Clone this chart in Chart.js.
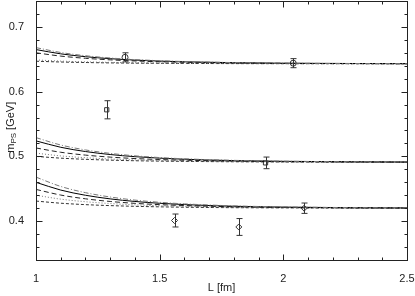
<!DOCTYPE html>
<html>
<head>
<meta charset="utf-8">
<script src="https://cdn.jsdelivr.net/npm/chart.js@4"></script>
<style>
  body { margin: 0; background: #fff; }
  #wrap { width: 415px; height: 296px; }
</style>
</head>
<body>
<div id="wrap"><canvas id="massChart" width="415" height="296"></canvas></div>
<script>
// axis ticks
var xTicks = [1, 1.5, 2, 2.5];
var yTicks = [0.4, 0.5, 0.6, 0.7];

var gridL = [1.0, 1.1, 1.2, 1.3, 1.4, 1.5, 1.6, 1.8, 2.0, 2.25, 2.5];

// top group of curves
var topA = [0.668, 0.6605, 0.6555, 0.652, 0.6495, 0.6478, 0.6465, 0.6449, 0.644, 0.6435, 0.6433];
var topB = [0.665, 0.6584, 0.654, 0.6509, 0.6487, 0.6472, 0.6461, 0.6447, 0.6439, 0.6435, 0.6432];
var topC = [0.660, 0.6549, 0.6515, 0.6491, 0.6474, 0.6462, 0.6454, 0.6443, 0.6437, 0.6434, 0.6432];
var topD = [0.649, 0.6472, 0.646, 0.6452, 0.6446, 0.6441, 0.6438, 0.6435, 0.6433, 0.6431, 0.643];
var topE = [0.647, 0.6458, 0.645, 0.6444, 0.644, 0.6438, 0.6436, 0.6433, 0.6432, 0.6431, 0.643];

// middle group
var midA = [0.529, 0.5176, 0.510, 0.5047, 0.5009, 0.4982, 0.4963, 0.4939, 0.4926, 0.4918, 0.4914];
var midB = [0.524, 0.5141, 0.5075, 0.5029, 0.4996, 0.4973, 0.4956, 0.4935, 0.4924, 0.4917, 0.4913];
var midC = [0.513, 0.5064, 0.502, 0.4989, 0.4967, 0.4952, 0.4941, 0.4927, 0.4919, 0.4915, 0.4912];
var midD = [0.505, 0.5008, 0.498, 0.496, 0.4946, 0.4937, 0.493, 0.4921, 0.4916, 0.4913, 0.4911];
var midE = [0.500, 0.4973, 0.4955, 0.4942, 0.4933, 0.4927, 0.4923, 0.4917, 0.4914, 0.4912, 0.4911];

// bottom group
var lowA = [0.468, 0.4536, 0.444, 0.4373, 0.4325, 0.4291, 0.4267, 0.4236, 0.422, 0.421, 0.4205];
var lowB = [0.460, 0.448, 0.440, 0.4344, 0.4304, 0.4276, 0.4256, 0.423, 0.4217, 0.4208, 0.4204];
var lowC = [0.449, 0.4403, 0.4345, 0.4304, 0.4275, 0.4255, 0.4241, 0.4222, 0.4212, 0.4206, 0.4203];
var lowD = [0.440, 0.434, 0.430, 0.4272, 0.4252, 0.4238, 0.4228, 0.4215, 0.4208, 0.4204, 0.4202];
var lowE = [0.431, 0.4277, 0.4255, 0.424, 0.4229, 0.4221, 0.4215, 0.4208, 0.4205, 0.4202, 0.4201];

// lattice points with errors
var circleL = [1.36, 2.04];
var circleM = [0.653, 0.644];
var circleErr = [0.007, 0.007];

var squareL = [1.286, 1.928];
var squareM = [0.572, 0.490];
var squareErr = [0.014, 0.009];

var diamondL = [1.56, 1.82, 2.084];
var diamondM = [0.401, 0.391, 0.420];
var diamondErr = [0.010, 0.013, 0.008];

function pairs(xs, ys) {
    return xs.map(function (x, i) { return { x: x, y: ys[i] }; });
}

var curveStyles = [
    { color: '#777', dash: [5, 2, 1, 2] },
    { color: '#000', dash: [] },
    { color: '#222', dash: [5, 3] },
    { color: '#777', dash: [1, 2] },
    { color: '#333', dash: [3, 2] }
];

var datasets = [];
[[topA, topB, topC, topD, topE], [midA, midB, midC, midD, midE], [lowA, lowB, lowC, lowD, lowE]].forEach(function (group) {
    group.forEach(function (vals, i) {
        datasets.push({
            type: 'line',
            data: pairs(gridL, vals),
            borderColor: curveStyles[i].color,
            borderDash: curveStyles[i].dash,
            borderWidth: 1,
            pointRadius: 0,
            fill: false,
            cubicInterpolationMode: 'monotone'
        });
    });
});

function markerSet(xs, ys, errs, style, radius) {
    return {
        type: 'scatter',
        data: pairs(xs, ys),
        errors: errs,
        pointStyle: style,
        pointRadius: radius,
        pointBackgroundColor: 'rgba(0,0,0,0)',
        pointBorderColor: '#333',
        pointBorderWidth: 1,
        showLine: false
    };
}
datasets.push(markerSet(circleL, circleM, circleErr, 'circle', 3));
datasets.push(markerSet(squareL, squareM, squareErr, 'rect', 3));
datasets.push(markerSet(diamondL, diamondM, diamondErr, 'rectRot', 3));

// error bars drawn from each dataset's errors array
var errorBars = {
    id: 'errorBars',
    afterDatasetsDraw: function (chart) {
        var ctx = chart.ctx, xs = chart.scales.x, ys = chart.scales.y;
        ctx.save();
        ctx.strokeStyle = '#333';
        ctx.lineWidth = 1;
        chart.data.datasets.forEach(function (ds) {
            if (!ds.errors) return;
            ds.data.forEach(function (p, i) {
                var px = Math.round(xs.getPixelForValue(p.x)) + 0.5;
                var top = ys.getPixelForValue(p.y + ds.errors[i]);
                var bot = ys.getPixelForValue(p.y - ds.errors[i]);
                ctx.beginPath();
                ctx.moveTo(px, top); ctx.lineTo(px, bot);
                ctx.moveTo(px - 3, top); ctx.lineTo(px + 3, top);
                ctx.moveTo(px - 3, bot); ctx.lineTo(px + 3, bot);
                ctx.stroke();
            });
        });
        ctx.restore();
    }
};

// frame with inward ticks on all four sides, and the y title with subscript
var frame = {
    id: 'frame',
    afterDraw: function (chart) {
        var ctx = chart.ctx, a = chart.chartArea, xs = chart.scales.x, ys = chart.scales.y;
        var L = Math.round(a.left) + 0.5, R = Math.round(a.right) + 0.5;
        var T = Math.round(a.top) + 0.5, B = Math.round(a.bottom) + 0.5;
        ctx.save();
        ctx.strokeStyle = '#222';
        ctx.lineWidth = 1;
        ctx.strokeRect(L, T, R - L, B - T);
        ctx.beginPath();
        for (var i = 0; i <= 15; i++) {
            var xv = 1 + i * 0.1;
            var len = (i % 5 === 0) ? 6 : 3;
            var px = Math.round(xs.getPixelForValue(xv)) + 0.5;
            ctx.moveTo(px, B); ctx.lineTo(px, B - len);
            ctx.moveTo(px, T); ctx.lineTo(px, T + len);
        }
        for (var j = 0; j <= 20; j++) {
            var yv = 0.34 + j * 0.02;
            var major = Math.abs(yv * 10 - Math.round(yv * 10)) < 1e-6;
            var ylen = major ? 6 : 3;
            var py = Math.round(ys.getPixelForValue(yv)) + 0.5;
            ctx.moveTo(L, py); ctx.lineTo(L + ylen, py);
            ctx.moveTo(R, py); ctx.lineTo(R - ylen, py);
        }
        ctx.stroke();

        // y axis title: m_PS [GeV], sits between the 0.6 and 0.5 labels
        ctx.fillStyle = '#222';
        ctx.textBaseline = 'middle';
        ctx.translate(11, ys.getPixelForValue(0.545));
        ctx.rotate(-Math.PI / 2);
        var big = '11px "Liberation Sans", Arial, sans-serif';
        var small = '8px "Liberation Sans", Arial, sans-serif';
        ctx.font = big;
        var w1 = ctx.measureText('m').width, w3 = ctx.measureText(' [GeV]').width;
        ctx.font = small;
        var w2 = ctx.measureText('PS').width;
        var x0 = -(w1 + w2 + w3) / 2;
        ctx.font = big;
        ctx.fillText('m', x0, 0);
        ctx.font = small;
        ctx.fillText('PS', x0 + w1, 3);
        ctx.font = big;
        ctx.fillText(' [GeV]', x0 + w1 + w2, 0);
        ctx.restore();
    }
};

var tickFont = { family: '"Liberation Sans", Arial, sans-serif', size: 11 };

new Chart(document.getElementById('massChart'), {
    data: { datasets: datasets },
    options: {
        responsive: false,
        animation: false,
        layout: { autoPadding: false, padding: { top: 1, right: 8, left: 0, bottom: 0 } },
        plugins: { legend: { display: false }, tooltip: { enabled: false } },
        scales: {
            x: {
                type: 'linear',
                min: 1, max: 2.5,
                grid: { display: false },
                border: { display: false },
                afterBuildTicks: function (s) { s.ticks = xTicks.map(function (v) { return { value: v }; }); },
                afterFit: function (s) { s.height = 36; s.paddingLeft = 0; s.paddingRight = 0; },
                ticks: { color: '#222', font: tickFont, padding: 4, maxRotation: 0, callback: function (v) { return String(v); } },
                title: { display: true, text: 'L [fm]', color: '#222', font: tickFont, padding: { top: 2, bottom: 1 } }
            },
            y: {
                type: 'linear',
                min: 0.34, max: 0.74,
                grid: { display: false },
                border: { display: false },
                afterBuildTicks: function (s) { s.ticks = yTicks.map(function (v) { return { value: v }; }); },
                afterFit: function (s) { s.width = 36; s.paddingTop = 0; s.paddingBottom = 0; },
                ticks: { color: '#222', font: tickFont, padding: 4, callback: function (v) { return String(v); } }
            }
        }
    },
    plugins: [errorBars, frame]
});
</script>
</body>
</html>
